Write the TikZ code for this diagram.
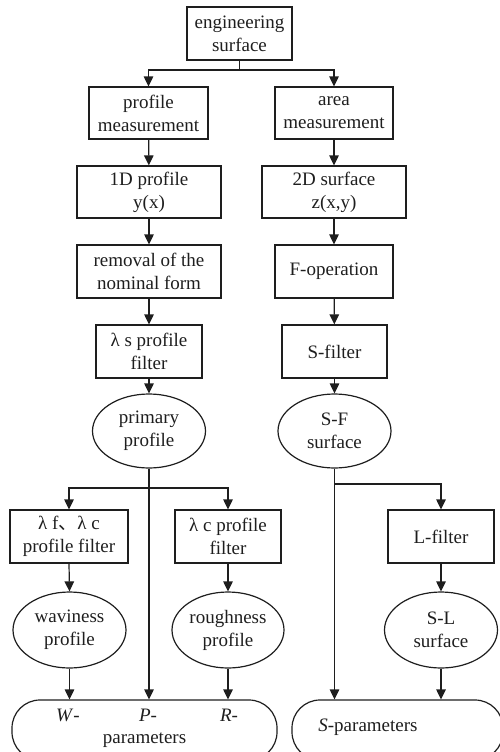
\documentclass[tikz,border=0pt]{standalone}
\usepackage{fontspec}
\setmainfont{Liberation Serif}
\newfontfamily\cjk{Noto Sans CJK SC}
\usetikzlibrary{arrows.meta,shapes.geometric}
\definecolor{ink}{HTML}{1E1E1E}
\tikzset{
  txt/.style={text=ink, font=\fontsize{19}{23}\selectfont},
  box/.style={draw=ink, line width=1.2pt, rectangle, align=center, inner sep=0pt, txt},
  oval/.style={draw=ink, line width=1.2pt, ellipse, align=center, inner sep=0pt, txt},
  pill/.style={draw=ink, line width=1.2pt, rectangle, rounded corners=28pt, inner sep=0pt},
  lbl/.style={inner sep=0pt, txt},
  arr/.style={draw=ink, line width=1.2pt, -{Triangle[length=10pt,width=9.5pt]}},
  ln/.style={draw=ink, line width=1.2pt}
}
\begin{document}
\begin{tikzpicture}[x=1pt,y=-1pt]
\useasboundingbox (0,0) rectangle (500,752);
\node[box, minimum width=105, minimum height=53] (eng) at (239.5,33.5) {engineering\\surface};
\node[box, minimum width=119, minimum height=52] (pm) at (148.5,113) {profile\\measurement};
\node[box, minimum width=118, minimum height=52] (am) at (334,113) {area\\measurement};
\node[box, minimum width=144, minimum height=52] (p1d) at (149,192) {1D profile\\y(x)};
\node[box, minimum width=144, minimum height=52] (s2d) at (334,192) {2D surface\\z(x,y)};
\node[box, minimum width=144, minimum height=53] (rem) at (149,271.5) {removal of the\\nominal form};
\node[box, minimum width=118, minimum height=53] (fop) at (334,271.5) {F-operation};
\node[box, minimum width=106, minimum height=53] (ls) at (149,351.5) {λ s profile\\filter};
\node[box, minimum width=105, minimum height=53] (sf) at (334.5,351.5) {S-filter};
\node[oval, minimum width=113, minimum height=74] (pp) at (149,431) {primary\\profile};
\node[oval, minimum width=113, minimum height=74] (sfs) at (334.5,431) {S-F\\surface};
\node[box, minimum width=118, minimum height=53] (lflc) at (69,536.5) {λ f{\cjk 、}λ c\\profile filter};
\node[box, minimum width=106, minimum height=53] (lc) at (228,536.5) {λ c profile\\filter};
\node[box, minimum width=106, minimum height=53] (lf) at (441,536.5) {L-filter};
\node[oval, minimum width=113, minimum height=76] (wav) at (69.5,630) {waviness\\profile};
\node[oval, minimum width=112, minimum height=76] (rough) at (228,630) {roughness\\profile};
\node[oval, minimum width=113, minimum height=76] (sl) at (441,630) {S-L\\surface};
\node[pill, minimum width=265, minimum height=60] (botL) at (144.5,730) {};
\node[pill, minimum width=211, minimum height=60] (botR) at (397.5,730) {};
\node[lbl] (tw) at (68,715) {\textit{W}-};
\node[lbl] (tp) at (148,715) {\textit{P}-};
\node[lbl] (tr) at (229,715) {\textit{R}-};
\node[lbl] (tparam) at (144.5,740) {parameters};
\node[lbl] (tsp) at (368,727) {\textit{S}-parameters};
\coordinate (b0) at (239.5,70);
\coordinate (b1) at (149,488);
\coordinate (b2) at (334.5,484);
\draw[ln] (eng.south) -- (b0);
\draw[arr] (b0) -| (pm.north);
\draw[arr] (b0) -| (am.north);
\draw[arr] (pm) -- (p1d);
\draw[arr] (p1d) -- (rem);
\draw[arr] (rem) -- (ls);
\draw[arr] (ls) -- (pp);
\draw[arr] (am) -- (s2d);
\draw[arr] (s2d) -- (fop);
\draw[arr] (fop) -- (sf);
\draw[arr] (sf.south) -- (sfs.north);
\draw[arr] (pp.south) -- (pp.south |- botL.north);
\draw[arr] (b1) -| (lflc.north);
\draw[arr] (b1) -| (lc.north);
\draw[arr] (sfs.south) -- (sfs.south |- botR.north);
\draw[arr] (b2) -| (lf.north);
\draw[arr] (lflc.south) -- (wav.north);
\draw[arr] (lc.south) -- (rough.north);
\draw[arr] (lf.south) -- (sl.north);
\draw[arr] (wav.south) -- (wav.south |- botL.north);
\draw[arr] (rough.south) -- (rough.south |- botL.north);
\draw[arr] (sl.south) -- (sl.south |- botR.north);
\end{tikzpicture}
\end{document}
